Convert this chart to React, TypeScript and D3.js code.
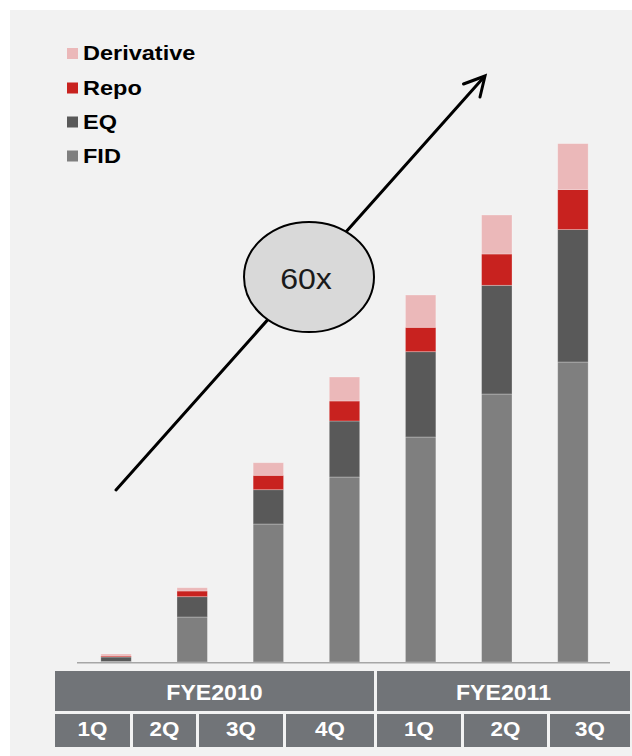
import React from "react";
import * as d3 from "d3";

// Quarterly volumes, stacked bottom-to-top
const quarters = ["1Q", "2Q", "3Q", "4Q", "1Q", "2Q", "3Q"];
const fiscalYears = ["FYE2010", "FYE2011"];
const fid = [0.5, 45, 138, 185, 225, 268, 300];
const eq = [4.5, 20.3, 34.3, 56, 85.3, 108.7, 132.4];
const repo = [1, 5.7, 14.4, 20, 24.4, 31.3, 40];
const derivative = [2, 3.3, 12.6, 24, 32.3, 39, 46];
const seriesNames = ["FID", "EQ", "Repo", "Derivative"];
const growthLabel = "60x";

const W = 632;
const H = 756;
const colors: Record<string, string> = {
  FID: "#7f7f7f",
  EQ: "#595959",
  Repo: "#c8221f",
  Derivative: "#ebb8b9",
};
const tableFill = "#717478";
const font = "'Liberation Sans', Arial, sans-serif";

// column edges for the quarter row and the year row of the table
const quarterEdges: [number, number][] = [
  [55, 130], [133, 196], [199, 283], [286, 374],
  [377, 461], [464, 547], [550, 630],
];
const yearEdges: [number, number][] = [[55, 374], [377, 630]];

export default function App() {
  const keys = quarters.map((_, i) => `q${i}`);
  const x = d3.scaleBand<string>().domain(keys).range([78, 611]).paddingInner(0.6).paddingOuter(0.3);
  const y = d3.scaleLinear().domain([0, 600]).range([662, 62]);

  const rows = quarters.map((_, i) => ({
    key: keys[i],
    FID: fid[i],
    EQ: eq[i],
    Repo: repo[i],
    Derivative: derivative[i],
  }));
  const stacked = d3.stack<any>().keys(seriesNames)(rows);

  const legendOrder = ["Derivative", "Repo", "EQ", "FID"];
  const legendBase = [60, 94.5, 128.5, 162.5];

  return (
    <svg
      width={W}
      height={H}
      style={{ position: "absolute", left: 0, top: 0, display: "block" }}
    >
      <rect x={0} y={0} width={W} height={H} fill="#ffffff" />
      <rect x={10} y={10} width={W - 10} height={H - 10} fill="#f2f2f2" />

      {/* legend */}
      {legendOrder.map((name, i) => (
        <g key={name}>
          <rect x={67} y={legendBase[i] - 12} width={11} height={11} fill={colors[name]} />
          <text
            transform={`translate(83,${legendBase[i]}) scale(1.12,1)`}
            fontFamily={font}
            fontWeight="bold"
            fontSize={21}
            fill="#000"
          >
            {name}
          </text>
        </g>
      ))}

      {/* growth arrow */}
      <line x1={116} y1={490} x2={484} y2={77} stroke="#000" strokeWidth={3} strokeLinecap="round" />
      <polyline
        points="463.5,84 485,76 480,97"
        fill="none"
        stroke="#000"
        strokeWidth={3}
        strokeLinecap="round"
        strokeLinejoin="miter"
      />
      <ellipse cx={309} cy={277} rx={65} ry={55} fill="#d9d9d9" stroke="#000" strokeWidth={2} />
      <text
        transform="translate(306,289) scale(1.07,1)"
        textAnchor="middle"
        fontFamily={font}
        fontSize={30}
        fill="#1a1a1a"
      >
        {growthLabel}
      </text>

      {/* stacked bars */}
      {stacked.map((layer) => (
        <g key={layer.key} fill={colors[layer.key]}>
          {layer.map((d, i) => (
            <rect
              key={i}
              x={x(keys[i])}
              y={y(d[1])}
              width={x.bandwidth()}
              height={Math.max(0, y(d[0]) - y(d[1]))}
              stroke="rgba(255,255,255,0.35)"
              strokeWidth={0.8}
            />
          ))}
        </g>
      ))}

      {/* baseline */}
      <line x1={77} x2={610} y1={y(0) + 0.75} y2={y(0) + 0.75} stroke="#a6a6a6" strokeWidth={1.5} />

      {/* table of fiscal years and quarters */}
      {fiscalYears.map((fy, i) => {
        const [a, b] = yearEdges[i];
        return (
          <g key={fy}>
            <rect x={a} y={671} width={b - a} height={40} fill={tableFill} />
            <text
              transform={`translate(${(a + b) / 2},699.5) scale(1.05,1)`}
              textAnchor="middle"
              fontFamily={font}
              fontWeight="bold"
              fontSize={22}
              fill="#fff"
            >
              {fy}
            </text>
          </g>
        );
      })}
      {quarters.map((q, i) => {
        const [a, b] = quarterEdges[i];
        return (
          <g key={i}>
            <rect x={a} y={714} width={b - a} height={33} fill={tableFill} />
            <text
              transform={`translate(${(a + b) / 2},736) scale(1.12,1)`}
              textAnchor="middle"
              fontFamily={font}
              fontWeight="bold"
              fontSize={20}
              fill="#fff"
            >
              {q}
            </text>
          </g>
        );
      })}
    </svg>
  );
}
